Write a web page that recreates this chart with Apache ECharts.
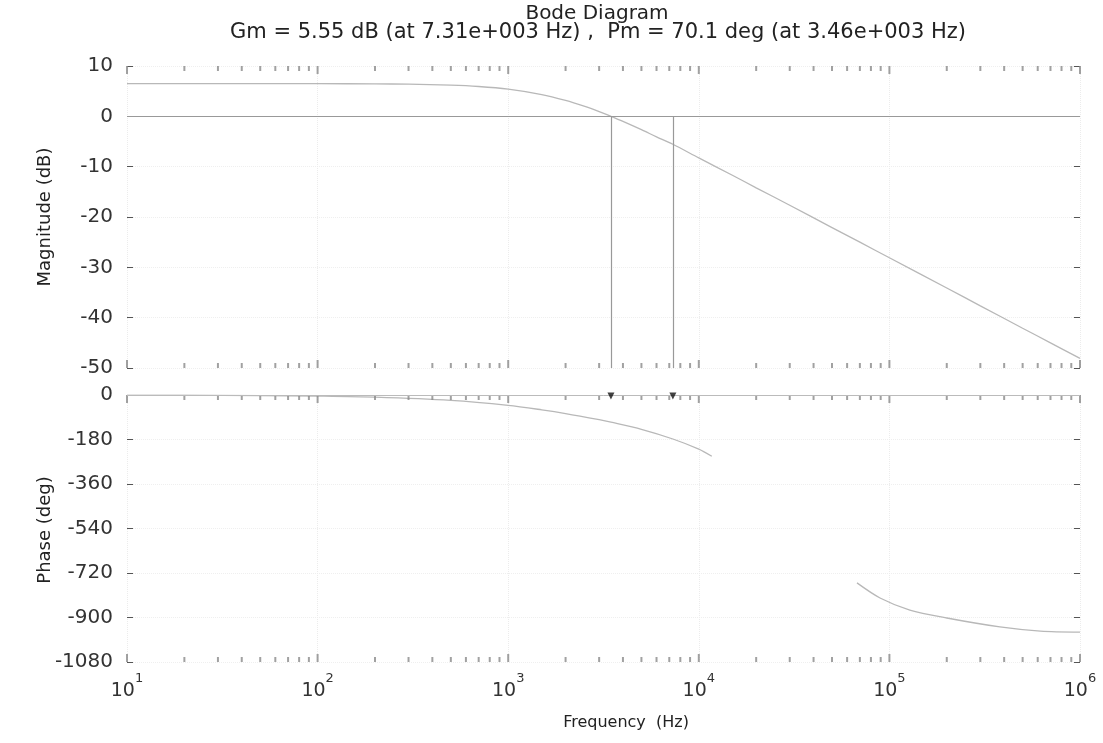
<!DOCTYPE html>
<html>
<head>
<meta charset="utf-8">
<script src="https://cdn.jsdelivr.net/npm/echarts@6/dist/echarts.min.js"></script>
<style>html,body{margin:0;padding:0;background:#fff}#c{width:1103px;height:743px}</style>
</head>
<body>
<div id="c"></div>
<script>
// ---- data ----
const titleText = 'Bode Diagram';
const subTitleText = 'Gm = 5.55 dB (at 7.31e+003 Hz) ,  Pm = 70.1 deg (at 3.46e+003 Hz)';
const magFreq = [10, 20, 50, 100, 200, 300, 500, 700, 1000, 1500, 2000, 2500, 3000, 3460, 4000, 5000, 6000, 7310, 10000, 15000, 20000, 30000, 50000, 70000, 100000, 200000, 300000, 500000, 700000, 1000000];
const magDb = [6.5, 6.5, 6.49, 6.48, 6.45, 6.39, 6.2, 5.93, 5.4, 4.33, 3.16, 2.02, 0.94, 0.0, -1.0, -2.65, -4.07, -5.55, -8.26, -11.7, -14.2, -17.66, -22.1, -25.0, -28.1, -34.1, -37.65, -42.1, -45.0, -48.1];
const phaseFreq = [10, 20, 50, 100, 200, 500, 1000, 1500, 2000, 3000, 3460, 5000, 7310, 10000, 11700, 30000, 67600, 89300, 128000, 200000, 380000, 620000, 1000000];
const phaseDeg = [-0.4, -0.9, -2.2, -4.5, -8.9, -22, -42, -60, -75, -100, -110, -139, -178, -219, -248, null, -760, -821, -870, -902, -938, -955, -959];
const pmFreq = 3460;
const gmFreq = 7310;
const magTicks = [10, 0, -10, -20, -30, -40, -50];
const phaseTicks = [0, -180, -360, -540, -720, -900, -1080];
const decadeTicks = [10, 100, 1000, 10000, 100000, 1000000];
const minorMultipliers = [2, 3, 4, 5, 6, 7, 8, 9];

// ---- derived helpers ----
const FONT = 'DejaVu Sans';
const TXT = '#333';
const minorTicks = decadeTicks.slice(0, -1).flatMap(d => minorMultipliers.map(m => m * d));
const magMax = magTicks[0], magMin = magTicks[magTicks.length - 1];
const phMax = phaseTicks[0], phMin = phaseTicks[phaseTicks.length - 1];

function tickMarks(xi, yi, yTop, yBot, list, h) {
  return [
    { type: 'scatter', xAxisIndex: xi, yAxisIndex: yi, silent: true, symbol: 'rect', symbolSize: [2, h], symbolOffset: [0, h / 2], itemStyle: { color: '#8a8a8a' }, data: list.map(f => [f, yTop]), z: 3 },
    { type: 'scatter', xAxisIndex: xi, yAxisIndex: yi, silent: true, symbol: 'rect', symbolSize: [2, h], symbolOffset: [0, -h / 2], itemStyle: { color: '#8a8a8a' }, data: list.map(f => [f, yBot]), z: 3 }
  ];
}

const L = 127, W = 953;
const xBase = {
  type: 'log', logBase: 10, min: decadeTicks[0], max: decadeTicks[decadeTicks.length - 1],
  axisLine: { show: false }, axisTick: { show: false },
  splitLine: { show: true, lineStyle: { color: '#ececec', type: 'dotted' } }
};
const yBase = (min, max, interval, left, showLabel) => ({
  type: 'value', min, max, interval, position: left ? 'left' : 'right',
  axisLine: { show: false },
  axisTick: { show: true, inside: true, length: 6, lineStyle: { color: '#555' } },
  axisLabel: { show: showLabel, color: TXT, fontFamily: FONT, fontSize: 20, margin: 14, formatter: v => String(v) },
  splitLine: { show: left, lineStyle: { color: '#efefef', type: 'dotted' } }
});

const option = {
  animation: false,
  backgroundColor: '#fff',
  grid: [
    { left: L, width: W, top: 66, height: 302 },
    { left: L, width: W, top: 395, height: 267 }
  ],
  xAxis: [
    Object.assign({ gridIndex: 0, axisLabel: { show: false } }, xBase),
    Object.assign({ gridIndex: 1, axisLabel: {
      show: true, margin: 10, color: TXT,
      formatter: v => '{b|10}{s|' + Math.round(Math.log10(v)) + '}',
      rich: {
        b: { fontFamily: FONT, fontSize: 19, color: TXT, verticalAlign: 'bottom', padding: [10, 0, 0, 0] },
        s: { fontFamily: FONT, fontSize: 13, color: TXT, verticalAlign: 'top' }
      }
    } }, xBase)
  ],
  yAxis: [
    Object.assign({ gridIndex: 0 }, yBase(magMin, magMax, 10, true, true)),
    Object.assign({ gridIndex: 0 }, yBase(magMin, magMax, 10, false, false)),
    Object.assign({ gridIndex: 1 }, yBase(phMin, phMax, 180, true, true)),
    Object.assign({ gridIndex: 1 }, yBase(phMin, phMax, 180, false, false))
  ],
  graphic: [
    { type: 'text', x: 597, y: 14, style: { text: titleText, font: '20px "' + FONT + '"', fill: '#222', align: 'center', verticalAlign: 'middle' } },
    { type: 'text', x: 598, y: 33, style: { text: subTitleText, font: '21px "' + FONT + '"', fill: '#222', align: 'center', verticalAlign: 'middle' } },
    { type: 'text', x: 45, y: 217, rotation: Math.PI / 2, style: { text: 'Magnitude (dB)', font: '18px "' + FONT + '"', fill: '#222', align: 'center', verticalAlign: 'middle' } },
    { type: 'text', x: 45, y: 530, rotation: Math.PI / 2, style: { text: 'Phase (deg)', font: '18px "' + FONT + '"', fill: '#222', align: 'center', verticalAlign: 'middle' } },
    { type: 'text', x: 626, y: 723, style: { text: 'Frequency  (Hz)', font: '16px "' + FONT + '"', fill: '#222', align: 'center', verticalAlign: 'middle' } }
  ],
  series: [
    {
      type: 'line', xAxisIndex: 0, yAxisIndex: 0, showSymbol: false, smooth: 0.3,
      lineStyle: { color: '#b8b8b8', width: 1.3 },
      data: magFreq.map((f, i) => [f, magDb[i]]),
      markLine: {
        silent: true, symbol: 'none', label: { show: false },
        lineStyle: { color: '#999', width: 1.2, type: 'solid' },
        data: [
          { yAxis: 0 },
          [{ coord: [pmFreq, 0] }, { coord: [pmFreq, magMin] }],
          [{ coord: [gmFreq, 0] }, { coord: [gmFreq, magMin] }]
        ]
      }
    },
    {
      type: 'line', xAxisIndex: 1, yAxisIndex: 2, showSymbol: false, smooth: 0.3, connectNulls: false,
      lineStyle: { color: '#b8b8b8', width: 1.3 },
      data: phaseFreq.map((f, i) => [f, phaseDeg[i]]),
      markLine: {
        silent: true, symbol: 'none', label: { show: false },
        lineStyle: { color: '#bbb', width: 1, type: 'solid' },
        data: [{ yAxis: 0 }]
      }
    },
    {
      type: 'scatter', xAxisIndex: 1, yAxisIndex: 2, silent: true, symbol: 'triangle', symbolRotate: 180,
      symbolSize: 7, symbolOffset: [0, 1], itemStyle: { color: '#111' },
      data: [[pmFreq, 0], [gmFreq, 0]], z: 5
    },
    ...tickMarks(0, 0, magMax, magMin, minorTicks, 5),
    ...tickMarks(0, 0, magMax, magMin, decadeTicks, 8),
    ...tickMarks(1, 2, phMax, phMin, minorTicks, 5),
    ...tickMarks(1, 2, phMax, phMin, decadeTicks, 8)
  ]
};
const chart = echarts.init(document.getElementById('c'), null, { renderer: 'canvas' });
chart.setOption(option);
</script>
</body>
</html>
